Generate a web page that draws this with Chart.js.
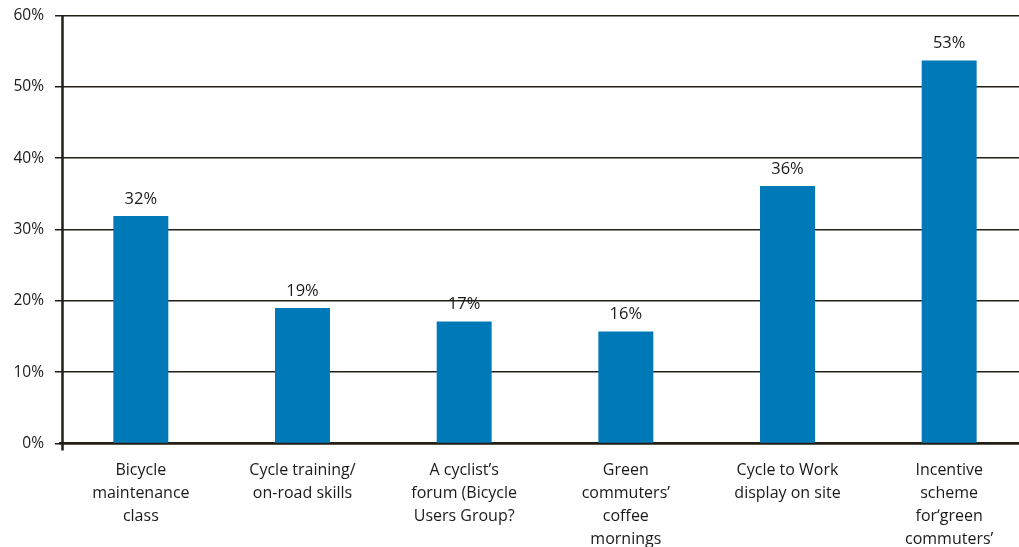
<!DOCTYPE html>
<html>
<head>
<meta charset="utf-8">
<script src="https://cdn.jsdelivr.net/npm/chart.js@4/dist/chart.umd.min.js"></script>
<style>
html,body{margin:0;padding:0;background:#fff;overflow:hidden;}
#wrap{position:relative;width:1030px;height:547px;}
</style>
</head>
<body>
<div id="wrap"><canvas id="c"></canvas></div>
<script>
const categories = [
  ["Bicycle","maintenance","class"],
  ["Cycle training/","on-road skills"],
  ["A cyclist\u2019s","forum (Bicycle","Users Group?"],
  ["Green","commuters\u2019","coffee","mornings"],
  ["Cycle to Work","display on site"],
  ["Incentive","scheme","for\u2018green","commuters\u2019"]
];
const values = [31.9, 19.0, 17.1, 15.7, 36.1, 53.7];
const valueLabels = ["32%","19%","17%","16%","36%","53%"];
const yTicks = [0,10,20,30,40,50,60];

const FONT = "'Open Sans', 'DejaVu Sans', sans-serif";
const INK = '#231f17';

const valueLabelPlugin = {
  id: 'valueLabels',
  afterDatasetsDraw(chart) {
    const ctx = chart.ctx;
    const meta = chart.getDatasetMeta(0);
    ctx.save();
    ctx.font = "16.5px " + FONT;
    ctx.fillStyle = '#1a1a1a';
    ctx.textAlign = 'center';
    ctx.textBaseline = 'middle';
    meta.data.forEach((bar, i) => {
      ctx.fillText(valueLabels[i], bar.x, bar.y - 17);
    });
    // vertical axis line (slightly inside the category area) with a tick below origin
    const area = chart.chartArea;
    ctx.strokeStyle = INK;
    ctx.lineWidth = 2.5;
    ctx.beginPath();
    ctx.moveTo(area.left + 2.5, area.top - 0.5);
    ctx.lineTo(area.left + 2.5, area.bottom + 7);
    ctx.stroke();
    ctx.restore();
  }
};

new Chart(document.getElementById('c'), {
  type: 'bar',
  data: {
    labels: categories,
    datasets: [{
      data: values,
      backgroundColor: '#0079b8',
      borderWidth: 0,
      barPercentage: 0.34,
      categoryPercentage: 1.0
    }]
  },
  options: {
    responsive: true,
    maintainAspectRatio: false,
    animation: false,
    layout: { padding: { top: 15.5, right: 0, bottom: 0, left: 0 } },
    plugins: { legend: { display: false }, tooltip: { enabled: false } },
    scales: {
      x: {
        grid: { display: false, drawTicks: false },
        border: { display: true, color: INK, width: 2.5 },
        ticks: {
          color: '#1a1a1a',
          font: { family: FONT, size: 16, lineHeight: 1.42 },
          padding: 16,
          maxRotation: 0,
          autoSkip: false
        },
        afterFit(scale) { scale.height = 103.5; scale.paddingLeft = 0; scale.paddingRight = 0; }
      },
      y: {
        min: 0, max: 60,
        afterBuildTicks(scale) { scale.ticks = yTicks.map(v => ({ value: v })); },
        grid: { color: INK, lineWidth: 1.5, drawTicks: true, tickLength: 5 },
        border: { display: false },
        ticks: {
          color: '#1a1a1a',
          font: { family: FONT, size: 15.5 },
          padding: 11,
          callback: v => v + '%'
        },
        afterFit(scale) { scale.width = 60; scale.paddingTop = 0; scale.paddingBottom = 0; }
      }
    }
  },
  plugins: [valueLabelPlugin]
});
</script>
</body>
</html>
